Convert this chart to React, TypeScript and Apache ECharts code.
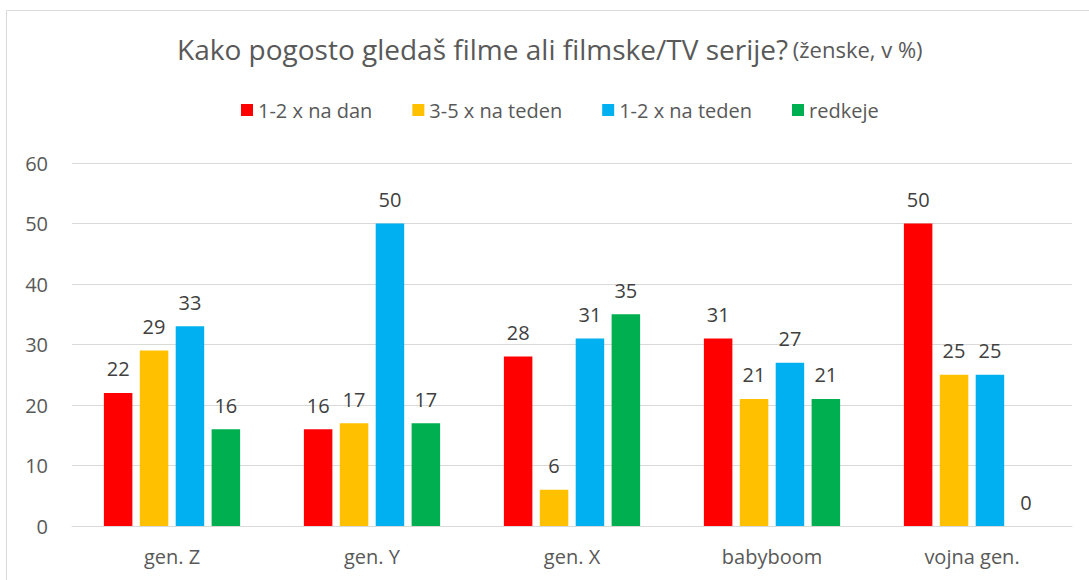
import React, { useEffect, useRef } from "react";
import * as echarts from "echarts";

const categories = ["gen. Z", "gen. Y", "gen. X", "babyboom", "vojna gen."];
const seriesNames = ["1-2 x na dan", "3-5 x na teden", "1-2 x na teden", "redkeje"];
const dailyValues = [22, 16, 28, 31, 50];
const fewPerWeekValues = [29, 17, 6, 21, 25];
const weeklyValues = [33, 50, 31, 27, 25];
const rarelyValues = [16, 17, 35, 21, 0];
const colors = ["#FF0000", "#FFC000", "#00B0F0", "#00B050"];
const yTicks = { min: 0, max: 60, interval: 10 };

const FONT = "'Open Sans', 'Noto Sans', sans-serif";

export default function App() {
  const ref = useRef<HTMLDivElement>(null);
  useEffect(() => {
    if (!ref.current) return;
    const chart = echarts.init(ref.current, null, { renderer: "svg" });
    const values = [dailyValues, fewPerWeekValues, weeklyValues, rarelyValues];
    chart.setOption({
      animation: false,
      backgroundColor: "#ffffff",
      textStyle: { fontFamily: FONT },
      graphic: [
        {
          type: "rect",
          shape: { x: 6.5, y: 10.5, width: 1100, height: 600 },
          style: { fill: "none", stroke: "#d9d9d9", lineWidth: 1 },
          silent: true,
        },
      ],
      title: {
        text: "{main|Kako pogosto gledaš filme ali filmske/TV serije?} {small|(ženske, v %)}",
        left: 172,
        top: 30,
        textStyle: {
          fontWeight: "normal",
          rich: {
            main: { fontSize: 28, fontWeight: "normal", color: "#595959", fontFamily: FONT },
            small: { fontSize: 22, fontWeight: "normal", color: "#595959", fontFamily: FONT },
          },
        },
      },
      legend: {
        top: 95,
        left: 236,
        itemWidth: 12,
        itemHeight: 12,
        itemGap: 40,
        icon: "rect",
        textStyle: { fontSize: 20, color: "#595959", fontFamily: FONT },
        data: seriesNames,
      },
      grid: { left: 72, right: 17, top: 163, bottom: 54, containLabel: false },
      xAxis: {
        type: "category",
        data: categories,
        axisLine: { show: true, lineStyle: { color: "#d9d9d9", width: 1 } },
        axisTick: { show: false },
        axisLabel: { fontSize: 20, color: "#595959", margin: 20, fontFamily: FONT },
      },
      yAxis: {
        type: "value",
        min: yTicks.min,
        max: yTicks.max,
        interval: yTicks.interval,
        axisLine: { show: false },
        axisTick: { show: false },
        splitLine: { lineStyle: { color: "#d9d9d9", width: 1 } },
        axisLabel: { fontSize: 20, color: "#595959", margin: 24, fontFamily: FONT },
      },
      series: seriesNames.map((name, i) => ({
        name,
        type: "bar",
        data: values[i],
        barWidth: 28.5,
        barGap: "26%",
        itemStyle: { color: colors[i] },
        label: {
          show: true,
          position: "top",
          distance: 14,
          fontSize: 20,
          color: "#404040",
          fontFamily: FONT,
        },
      })),
    });
    return () => chart.dispose();
  }, []);
  return (
    <div
      ref={ref}
      style={{ position: "fixed", left: 0, top: 0, width: 1089, height: 580 }}
    />
  );
}
